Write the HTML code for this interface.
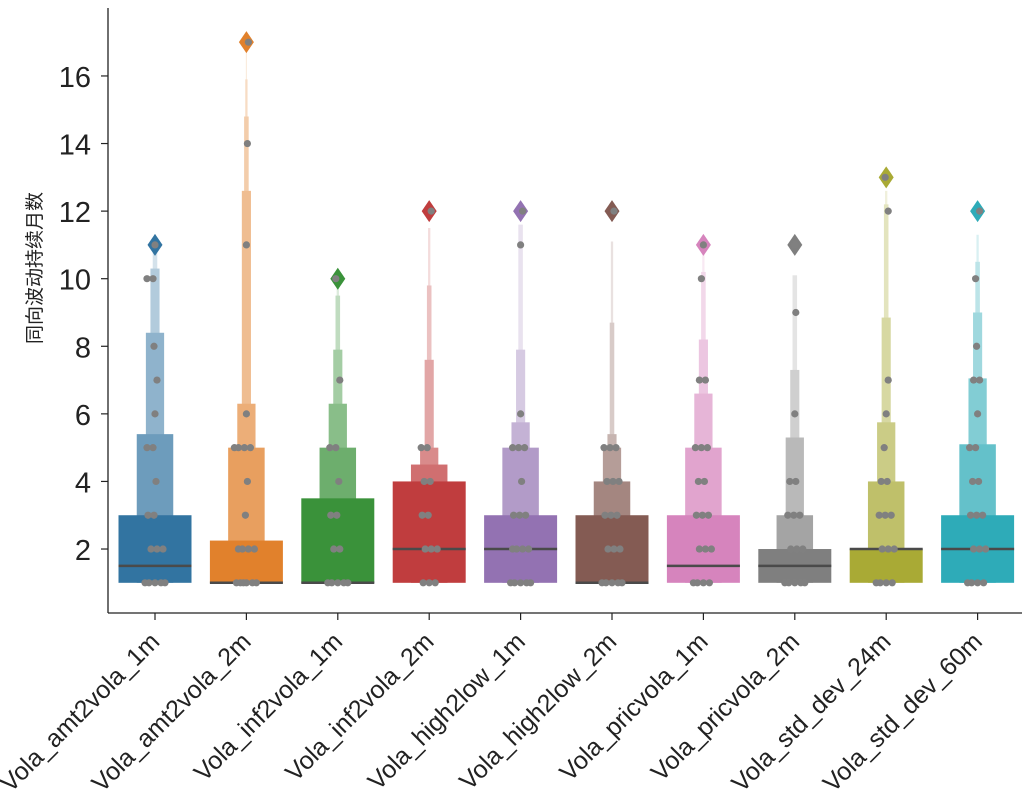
<!DOCTYPE html>
<html><head><meta charset="utf-8"><style>
body{margin:0;background:#fff}
svg{display:block}
text{font-family:"Liberation Sans","DejaVu Sans",sans-serif;fill:#222}
</style></head><body>
<svg id="chart" width="1029" height="810" viewBox="0 0 1029 810" xmlns="http://www.w3.org/2000/svg">
<g id="plot"></g>
<g id="axes"></g>
<text transform="translate(41,268) rotate(-90)" text-anchor="middle" font-size="19" style="font-family:'Liberation Sans','Noto Sans CJK SC',sans-serif">同向波动持续月数</text>
</svg>
<script>
const categories=["Vola_amt2vola_1m","Vola_amt2vola_2m","Vola_inf2vola_1m","Vola_inf2vola_2m","Vola_high2low_1m","Vola_high2low_2m","Vola_pricvola_1m","Vola_pricvola_2m","Vola_std_dev_24m","Vola_std_dev_60m"];
const colors=["#3274a1","#e1812c","#3a923a","#c03d3e","#9372b2","#845b53","#d684bd","#7f7f7f","#a9aa35","#2eabb8"];
const medians=[1.5,1,1,2,2,1,1.5,1.5,2,2];
const lowers=[1,1,1,1,1,1,1,1,1,1];
const levelUppers=[
 [3,5.4,8.4,10.3,10.8],
 [2.25,5,6.3,12.6,14.8,15.9,16.8],
 [3.5,5,6.3,7.9,9.5,9.9],
 [4,4.5,5,7.6,9.8,11.5],
 [3,5,5.75,7.9,11.6],
 [3,4,5,5.4,8.7,11.1],
 [3,5,6.6,8.2,10.2,10.8],
 [2,3,5.3,7.3,10.1],
 [2,4,5.75,8.85,12.2,12.6],
 [3,5.1,7.05,9,10.5,11.3]];
const outliers=[11,17,10,12,12,12,11,11,13,12];
const points=[
 [1,1,1,1,1,2,2,2,3,3,4,5,5,6,7,8,10,10,11],
 [1,1,1,1,1,1,2,2,2,2,3,4,5,5,5,5,6,11,14,17],
 [1,1,1,1,1,2,2,3,3,4,5,5,7,10],
 [1,1,1,2,2,2,3,3,4,4,5,5,12],
 [1,1,1,1,1,2,2,2,2,3,3,3,4,5,5,5,6,11,12],
 [1,1,1,1,1,2,2,2,3,3,3,4,4,4,5,5,5,12],
 [1,1,1,1,2,2,2,3,3,3,4,4,5,5,5,7,7,10,11],
 [1,1,1,1,1,2,2,2,3,3,3,4,4,6,9,11],
 [1,1,1,1,2,2,2,3,3,3,4,4,5,6,7,12,13],
 [1,1,1,1,2,2,2,3,3,3,4,4,5,5,6,7,7,8,10,12]];
const yTicks=[2,4,6,8,10,12,14,16];

const NS="http://www.w3.org/2000/svg";
const X0=108,X1=1022,Y0=8,Y1=613;
function yS(v){return 616.6-33.79*v;}
function xS(i){return 155+91.4*i;}
function mk(tag,attrs,parent){const e=document.createElementNS(NS,tag);for(const k in attrs)e.setAttribute(k,attrs[k]);parent.appendChild(e);return e;}
function mix(hex,t){const n=parseInt(hex.slice(1),16);let r=n>>16,g=(n>>8)&255,b=n&255;r=Math.round(r+(255-r)*t);g=Math.round(g+(255-g)*t);b=Math.round(b+(255-b)*t);return `rgb(${r},${g},${b})`;}
const plot=document.getElementById('plot');
const axes=document.getElementById('axes');

categories.forEach((c,i)=>{
 const g=mk('g',{},plot);
 
 
 const cx=xS(i),ups=levelUppers[i],n=ups.length;
 for(let k=n-1;k>=0;k--){
  const w=73*Math.pow(0.5,k);
  const t=k===0?0:Math.min(0.92,0.12+k*0.14*(6/Math.max(n,5)));
  const r=mk('rect',{x:cx-w/2,y:yS(ups[k]),width:w,height:yS(lowers[i])-yS(ups[k]),fill:mix(colors[i],t)},g);
  
  
 }
 const ml=mk('line',{x1:cx-36.5,x2:cx+36.5,y1:yS(medians[i]),y2:yS(medians[i]),stroke:'#4a4a4a','stroke-width':2.5},g);
 
 
 const oy=yS(outliers[i]);
 const d=mk('polygon',{points:`${cx},${oy-11} ${cx+7.5},${oy} ${cx},${oy+11} ${cx-7.5},${oy}`,fill:colors[i]},g);
 
 
 const cnt={};
 const offs=[0,-6,6,-10,10,-3,3,-8,8];
 points[i].forEach(v=>{
  cnt[v]=(cnt[v]||0);const o=offs[cnt[v]%offs.length]+((v*7)%5-2);cnt[v]++;
  const p=mk('circle',{cx:cx+o,cy:yS(v),r:3.6,fill:'#808080'},g);
  
  
 });
 const tk=mk('line',{x1:cx,x2:cx,y1:Y1,y2:Y1+7,stroke:'#222','stroke-width':1.2},axes);
 
 
 const tx=mk('text',{transform:`translate(${cx+6},${Y1+30}) rotate(-45)`,'text-anchor':'end','font-size':25},axes);
 
 
 tx.textContent=c;
});
yTicks.forEach(v=>{
 const tk=mk('line',{x1:X0-7,x2:X0,y1:yS(v),y2:yS(v),stroke:'#222','stroke-width':1.2},axes);
 
 
 const t=mk('text',{x:X0-17,y:yS(v)+11,'text-anchor':'end','font-size':29},axes);
 
 
 t.textContent=v;
});
const ya=mk('line',{x1:X0,x2:X0,y1:Y0,y2:Y1,stroke:'#222','stroke-width':1.3},axes);


const xa=mk('line',{x1:X0,x2:X1,y1:Y1,y2:Y1,stroke:'#222','stroke-width':1.3},axes);


</script>
</body></html>
